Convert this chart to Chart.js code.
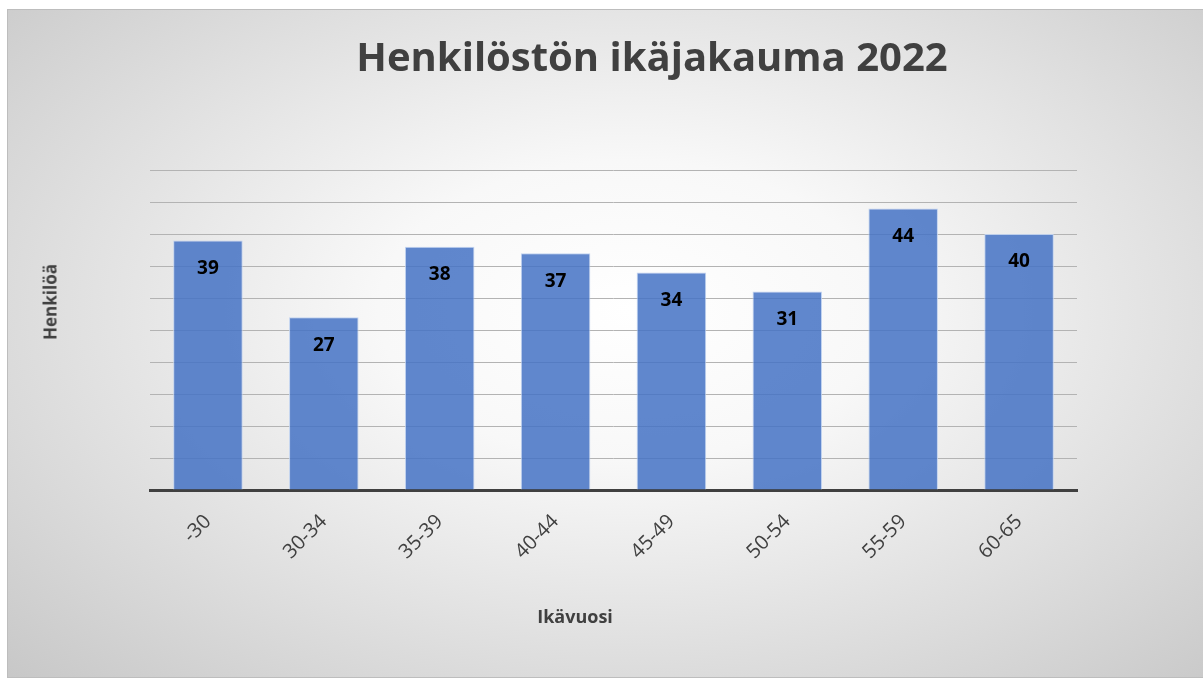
<!DOCTYPE html>
<html>
<head>
<meta charset="utf-8">
<script src="https://cdn.jsdelivr.net/npm/chart.js@4"></script>
<style>
  body { margin: 0; background: #fff; font-family: "Open Sans", sans-serif; }
  #frame {
    position: absolute; left: 7px; top: 9px; width: 1195px; height: 667px;
    border: 1px solid #bdbdbd;
    background: radial-gradient(ellipse 75% 80% at 52% 45%, #ffffff 0%, #f8f8f8 28%, #c6c6c6 100%);
  }
  .lbl { position: absolute; color: #404040; font-weight: bold; white-space: nowrap; }
  #title { left: 0; width: 1304px; top: 28px; text-align: center; font-size: 40px; }
  #xtitle { left: 0; width: 1150px; top: 604px; text-align: center; font-size: 18px; }
  #ytitle { left: 50px; top: 302px; font-size: 17px; transform: translate(-50%, -50%) rotate(-90deg); transform-origin: center; }
</style>
</head>
<body>
<div id="frame">
  <canvas id="bar" width="1195" height="667"></canvas>
</div>
<div class="lbl" id="title">Henkilöstön ikäjakauma 2022</div>
<div class="lbl" id="xtitle">Ikävuosi</div>
<div class="lbl" id="ytitle">Henkilöä</div>
<script>
const ageGroups = ['-30', '30-34', '35-39', '40-44', '45-49', '50-54', '55-59', '60-65'];
const headcount = [39, 27, 38, 37, 34, 31, 44, 40];

// value labels inside the bar tops
const barLabels = {
  id: 'barLabels',
  afterDatasetsDraw(chart) {
    const c = chart.ctx;
    c.save();
    c.font = 'bold 19px "Open Sans", sans-serif';
    c.fillStyle = '#000';
    c.textAlign = 'center';
    c.textBaseline = 'middle';
    chart.getDatasetMeta(0).data.forEach((bar, i) => {
      c.fillText(headcount[i], bar.x, bar.y + 28);
    });
    c.restore();
  }
};

const ctx = document.getElementById('bar').getContext('2d');

var myChart = new Chart(ctx, {
  type: 'bar',
  data: {
    labels: ageGroups,
    datasets: [{
      label: 'Henkilöä',
      data: headcount,
      backgroundColor: 'rgba(68, 114, 196, 0.85)',
      borderColor: 'rgba(190, 208, 240, 0.9)',
      borderWidth: 1,
      categoryPercentage: 1,
      barPercentage: 0.6
    }]
  },
  options: {
    responsive: false,
    animation: false,
    layout: { padding: { left: 142, right: 126, top: 160, bottom: 87 } },
    plugins: {
      legend: { display: false },
      tooltip: { enabled: false }
    },
    scales: {
      x: {
        grid: { display: false },
        border: { color: '#404040', width: 3 },
        ticks: {
          color: '#404040',
          font: { family: 'Open Sans', size: 20 },
          minRotation: 45,
          maxRotation: 45,
          padding: 12
        },
        afterFit: s => { s.height = 100; }
      },
      y: {
        min: 0,
        max: 50,
        ticks: { display: false, stepSize: 5 },
        grid: { color: '#b3b3b3', lineWidth: 1, drawTicks: false },
        border: { display: false },
        afterFit: s => { s.width = 0; }
      }
    }
  },
  plugins: [barLabels]
});
</script>
</body>
</html>
